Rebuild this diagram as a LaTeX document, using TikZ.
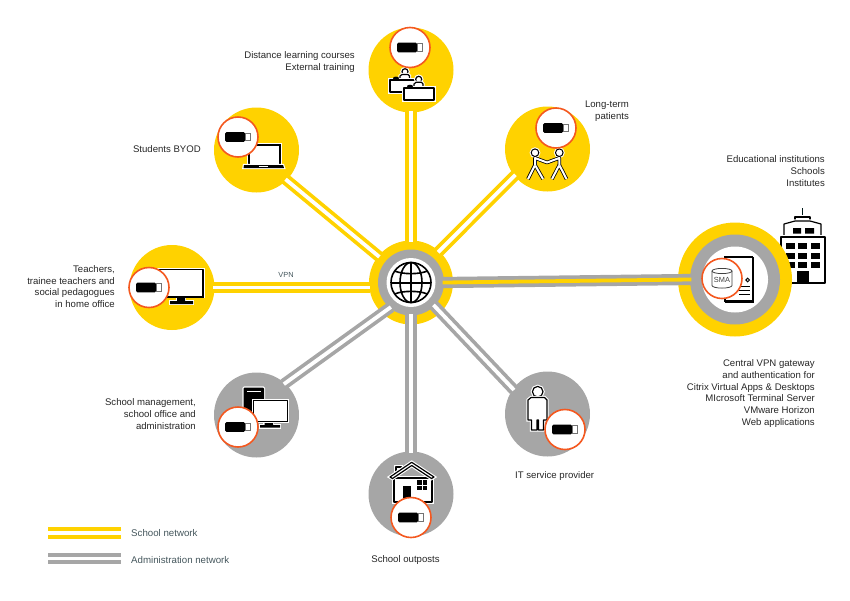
\documentclass[tikz,border=0pt]{standalone}
\usepackage{fontspec}
\setmainfont{Liberation Sans}
\definecolor{netyellow}{HTML}{FFD200}
\definecolor{netgray}{HTML}{A6A6A6}
\definecolor{ringorange}{HTML}{F4581F}
\definecolor{labelgray}{HTML}{262626}
\definecolor{legendgray}{HTML}{44565C}
\tikzset{
  usbkey/.pic={
    \fill[black, rounded corners=1.5pt] (-13,-4.9) rectangle (7.2,4.9);
    \draw[black!55, fill=white, line width=.9pt] (7.2,-3.6) rectangle (12.6,3.6);
  }
}
\begin{document}
\begin{tikzpicture}[x=1pt, y=-1pt]
    \tikzstyle{sat}=[circle, minimum size=85pt, inner sep=0pt];
    \tikzstyle{badge}=[circle, draw=ringorange, fill=white, line width=1.6pt, minimum size=40pt, inner sep=0pt];
    \tikzstyle{schoolnet}=[draw=netyellow, double=white, line width=3.7pt, double distance=3.8pt, shorten <=-1.5pt, shorten >=-1.5pt];
    \tikzstyle{adminnet}=[draw=netgray, double=white, line width=3.7pt, double distance=3.8pt, shorten <=-1.5pt, shorten >=-1.5pt];
    \tikzstyle{mainnet}=[draw=netgray, double=netyellow, line width=3.7pt, double distance=3.8pt, shorten <=-1.5pt, shorten >=-1.5pt];
    \tikzstyle{lbl}=[inner sep=0pt, text=labelgray, font=\fontsize{9.6}{11.8}\selectfont, align=right];
    \tikzstyle{legendlbl}=[inner sep=0pt, text=legendgray, font=\fontsize{9.7}{11.8}\selectfont, anchor=west];
    \tikzstyle{icon}=[draw=black, fill=white, line width=1.2pt, line join=round, preaction={draw=white, line width=3.4pt}];
    \tikzstyle{limb}=[draw=black, double=white, line width=.8pt, double distance=2pt, line join=round];
    \useasboundingbox (0,0) rectangle (850,600);

    % building, behind the right circle
    \draw[black!80!teal, line width=.8pt] (802.3,208) -- (802.3,217);
    \draw[icon] (795,217) rectangle (810,223);
    \draw[icon] (784,236) -- (784,224) -- (795,221) -- (810,221) -- (821,224) -- (821,236) -- cycle;
    \draw[icon] (781,237) rectangle (825,283);
    \fill (793,228) rectangle (801,233.5) (805,228) rectangle (814,233.5);
    \foreach \y in {243,252.5,262}
        \foreach \x in {786,798,811}
            \fill (\x,\y) rectangle ++(9,6.3);
    \fill (796.5,271) rectangle (809,281.5);

    % circles
    \node (hubouter) at (411,282.5) [sat, fill=netyellow, minimum size=84pt] {};
    \node (hubring) at (411,282.5) [sat, fill=netgray, minimum size=66pt] {};
    \node (rightouter) at (735,279.5) [sat, fill=netyellow, minimum size=114pt] {};
    \node (rightring) at (735,279.5) [sat, fill=netgray, minimum size=90pt] {};
    \node (courses) at (411,70) [sat, fill=netyellow] {};
    \node (patients) at (547.5,149) [sat, fill=netyellow] {};
    \node (byod) at (256.5,150) [sat, fill=netyellow] {};
    \node (homeoffice) at (172,287.5) [sat, fill=netyellow] {};
    \node (management) at (256.5,415) [sat, fill=netgray] {};
    \node (outposts) at (411,494) [sat, fill=netgray] {};
    \node (provider) at (547.5,414) [sat, fill=netgray] {};

    % connectors
    \draw[schoolnet] (hubouter) -- (courses);
    \draw[schoolnet] (hubouter.48) -- (patients.219);
    \draw[schoolnet] (hubouter.141) -- (byod.315);
    \draw[schoolnet] (homeoffice.east) -- (homeoffice.east -| hubouter.west);
    \draw[adminnet] (hubring.230) -- (management.48);
    \draw[adminnet] (hubring) -- (outposts);
    \draw[adminnet] (hubring.315) -- (provider.144);
    \draw[mainnet] (hubring.east) -- (rightring.west);

    \node (hub) at (411,282.5) [sat, fill=white, minimum size=49pt] {};
    \node (rightcore) at (735,279.5) [sat, fill=white, minimum size=66pt] {};

    % globe
    \begin{scope}[shift={(hub.center)}, line width=1.6pt]
        \draw (0,0) circle (20pt);
        \draw (0,0) ellipse [x radius=11, y radius=20];
        \draw[line width=2.2pt] (0,-20) -- (0,20);
        \draw[line width=2pt] (-20,0) -- (20,0);
        \draw (-16.5,-11.5) .. controls (-8,-8) and (8,-8) .. (16.5,-11.5);
        \draw (-16.5,11.5) .. controls (-8,8) and (8,8) .. (16.5,11.5);
    \end{scope}

    % server
    \draw[draw=black, fill=white, line width=1.2pt] (725,257) rectangle (752.5,301);
    \draw[line width=2pt] (725,301.5) -- (753,301.5) -- (753,257);
    \draw[line width=1pt] (747.7,280) circle (1.8pt);
    \foreach \y in {286,290,294}
        \draw[line width=1pt] (739,\y) -- (750,\y);

    % teachers desks
    \draw[icon] (405,71.7) circle (3pt);
    \draw[icon] (400,80) -- (400,76) -- (402,74.5) -- (408,74.5) -- (409.5,76) -- (409.5,80) -- cycle;
    \draw[icon] (390,80) rectangle (418,92);
    \fill (396,78.2) ellipse [x radius=3, y radius=1.6];
    \draw[icon] (418.7,79.3) circle (3pt);
    \draw[icon] (414,88) -- (414,84) -- (416,82.3) -- (421.5,82.3) -- (423,84) -- (423,88) -- cycle;
    \draw[icon] (404,88) rectangle (434,100);
    \fill (410,86.3) ellipse [x radius=3, y radius=1.6];

    % two people
    \draw[black, fill=white, line width=1pt, preaction={draw=white, line width=3pt}] (535,152.7) circle (3.8pt);
    \draw[black, fill=white, line width=1pt, preaction={draw=white, line width=3pt}] (559.3,152.7) circle (3.8pt);
    \draw[limb] (528,179) -- (535,165) -- (543,179);
    \draw[limb] (566.5,179) -- (559.3,165) -- (552,179);
    \draw[limb] (535,165) -- (535,158) -- (547,162.5) -- (559.3,158) -- (559.3,165);

    % laptop
    \draw[icon] (248.5,144.5) rectangle (280,165);
    \draw[black, line width=2pt] (248.5,165) -- (248.5,144.5) -- (280,144.5) -- (280,165);
    \fill[black, preaction={draw=white, line width=2.4pt}] (244,165) -- (283,165) -- (284,168) -- (243.5,168) -- cycle;
    \fill[white] (259,165.6) rectangle (268,166.6);

    % monitor home office
    \fill[black, preaction={draw=white, line width=2.4pt}] (177,296) rectangle (185,301) (170,301) rectangle (193,304);
    \draw[icon] (158,269.5) rectangle (203,296.5);
    \draw[black, line width=2pt] (158,296.5) -- (203,296.5) -- (203,269.5);

    % tower and monitor management
    \fill[black, rounded corners=1pt, preaction={draw=white, line width=2.4pt}] (243.5,387.5) rectangle (264,415);
    \fill[white] (246.5,390.5) rectangle (261,392.2);
    \fill[black, preaction={draw=white, line width=2.4pt}] (264.5,421) rectangle (273,425) (260,425) rectangle (280,427.5);
    \draw[icon] (253.5,400.5) rectangle (287.5,421.5);
    \draw[black, line width=1.8pt] (253.5,421.5) -- (287.5,421.5);

    % house
    \draw[icon] (396,473) -- (396,467) -- (401.5,467) -- (401.5,473);
    \draw[icon] (394,478) rectangle (432,502);
    \draw[icon] (390,477) -- (411.7,462.3) -- (434,477) -- (431.5,478.5) -- (411.7,465.5) -- (392.5,478.5) -- cycle;
    \fill (403,486) rectangle (411,500);
    \fill (417,480) rectangle (427,490);
    \draw[white, line width=.6pt] (422,480) -- (422,490) (417,485) -- (427,485);

    % person
    \draw[icon] (537.7,391.7) circle (5.3pt);
    \draw[icon] (528,420) -- (528,400) -- (531,397.5) -- (544.5,397.5) -- (547,400) -- (547,420) -- (543.5,420) -- (543.5,430) -- (538.5,430) -- (538.5,420) -- (537,420) -- (537,430) -- (531.5,430) -- (531.5,420) -- cycle;

    % usb badges
    \foreach \n/\x/\y in {usbcourses/410/47.5, usbpatients/556/128, usbbyod/238/137, usbhome/149/287.5, usbmanage/238/427, usboutposts/411/517.5, usbprovider/565/429.5}
    {
        \node (\n) at (\x,\y) [badge] {};
        \pic at (\n) {usbkey};
    }

    % database
    \node (smabadge) at (722,278.5) [badge] {};
    \draw[black!75, line width=.8pt] (712,271) -- (712,285.5) arc[start angle=180, end angle=0, x radius=10, y radius=2.6] -- (732,271);
    \draw[black!75, line width=.8pt] (722,271) ellipse [x radius=10, y radius=2.6];
    \node (smalabel) at (722,279.5) [inner sep=0pt, text=black!75, font=\fontsize{7.4}{8}\selectfont] {SMA};

    % labels
    \node (lblcourses) at (355,62) [lbl, anchor=east] {Distance learning courses\\External training};
    \node (lblbyod) at (201,149) [lbl, anchor=east] {Students BYOD};
    \node (lblpatients) at (629,111) [lbl, anchor=east] {Long-term\\patients};
    \node (lblschools) at (825,171) [lbl, anchor=east] {Educational institutions\\Schools\\Institutes};
    \node (lblhome) at (115,286.5) [lbl, anchor=east] {Teachers,\\trainee teachers and\\social pedagogues\\in home office};
    \node (lblmanage) at (196,414) [lbl, anchor=east] {School management,\\school office and\\administration};
    \node (lblprovider) at (515,476) [lbl, anchor=west] {IT service provider};
    \node (lbloutposts) at (405.5,560) [lbl] {School outposts};
    \node (lblgateway) at (815,393.5) [lbl, anchor=east] {Central VPN gateway\\and authentication for\\Citrix Virtual Apps \& Desktops\\MIcrosoft Terminal Server\\VMware Horizon\\Web applications};
    \node (lblvpn) at (286,275) [inner sep=0pt, text=legendgray, font=\fontsize{7.4}{8}\selectfont] {VPN};

    % legend
    \coordinate (schoolstart) at (48,533);
    \coordinate (schoolend) at (121,533);
    \coordinate (adminstart) at (48,558.5);
    \coordinate (adminend) at (121,558.5);
    \draw[schoolnet, shorten <=0pt, shorten >=0pt] (schoolstart) -- (schoolend);
    \draw[adminnet, shorten <=0pt, shorten >=0pt] (adminstart) -- (adminend);
    \node (lblschoolnet) at (131,533.5) [legendlbl] {School network};
    \node (lbladminnet) at (131,560) [legendlbl] {Administration network};
\end{tikzpicture}
\end{document}
